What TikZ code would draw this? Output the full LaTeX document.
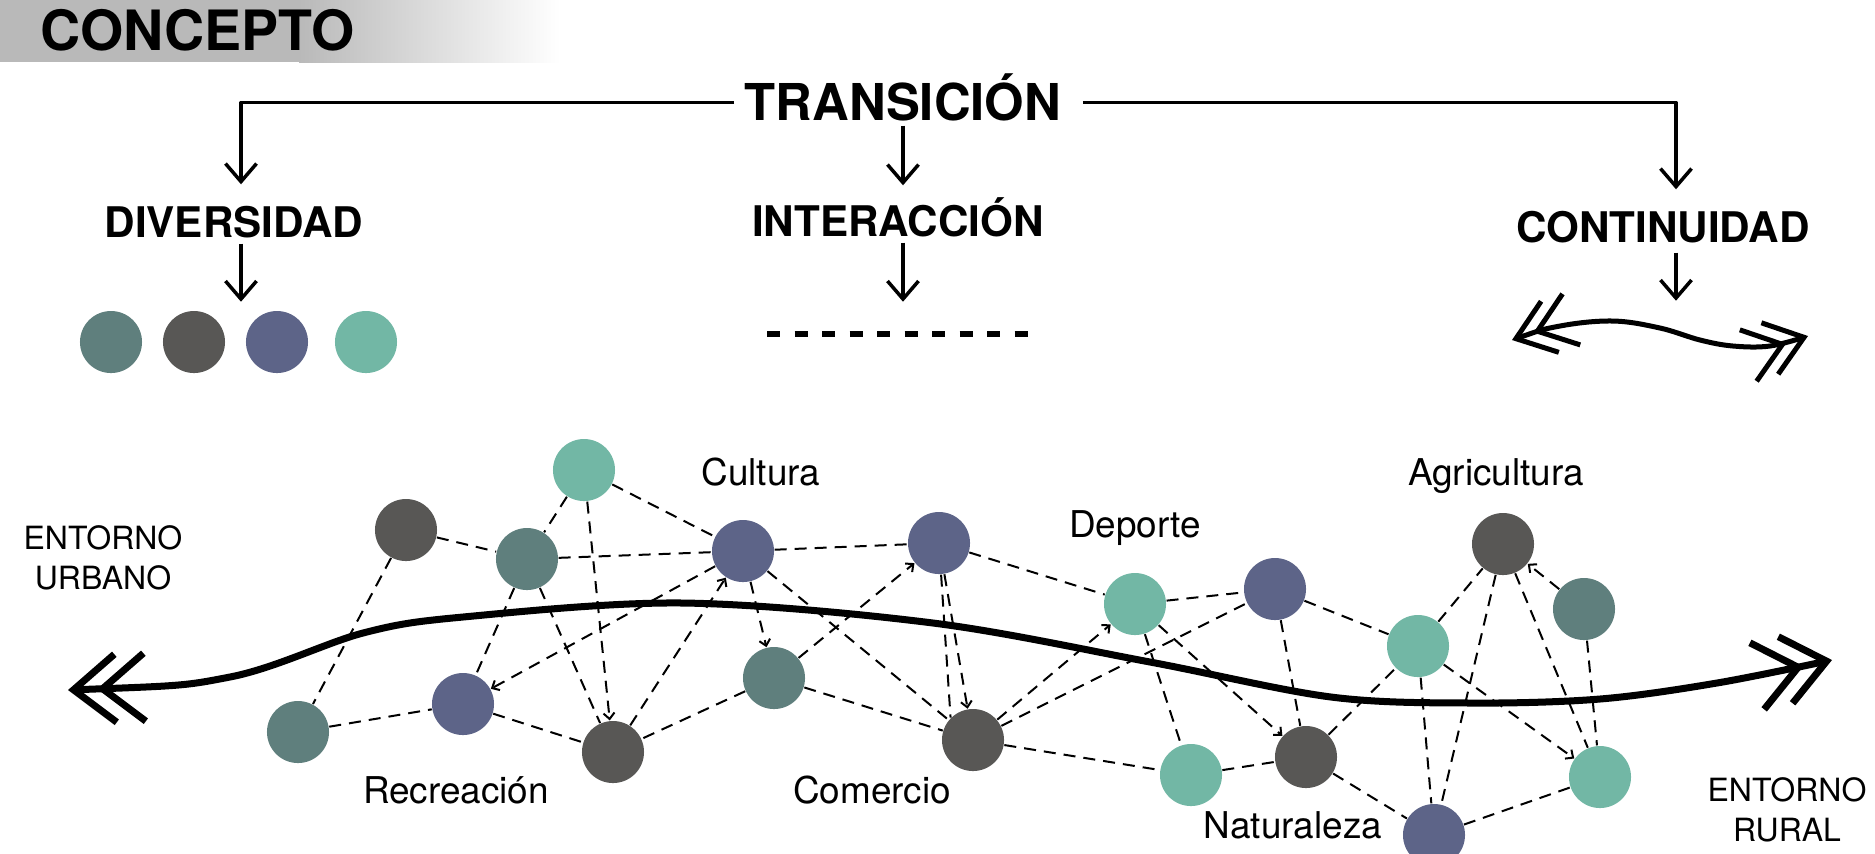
\documentclass[tikz,border=0pt]{standalone}
\usepackage{fontspec}
\setmainfont{TeX Gyre Heros}
\usetikzlibrary{arrows.meta}

\definecolor{cteal}{HTML}{5F7F7D}
\definecolor{cdark}{HTML}{585755}
\definecolor{cblue}{HTML}{5D6488}
\definecolor{cmint}{HTML}{72B7A5}
\definecolor{cbar}{HTML}{B9B9B9}

\begin{document}
\begin{tikzpicture}[x=0.01cm,y=-0.01cm,>={Straight Barb[length=0.06cm,width=0.11cm]},
                    line join=round]
  \tikzstyle{every node}=[inner sep=0pt]
  \tikzstyle{blob}=[circle,minimum size=0.62cm,inner sep=0pt]
  \tikzstyle{link}=[draw=black,line width=0.02cm,dash pattern=on 0.12cm off 0.08cm]
  \tikzstyle{ttl}=[font=\bfseries\fontsize{12}{14}\selectfont,anchor=base,text height=0.3cm,text depth=0pt]
  \tikzstyle{lbl}=[font=\fontsize{10.5}{12.6}\selectfont,anchor=base]
  \tikzstyle{env}=[font=\fontsize{9.1}{11.4}\selectfont,align=center,anchor=north]
  \tikzstyle{flow}=[-{Straight Barb[length=0.18cm,width=0.31cm]},line width=0.035cm]

  \clip (0,0) rectangle (1875,853);

  \fill[cbar] (0,0) rectangle (300,62);
  \shade[left color=cbar,right color=white] (299,0) rectangle (560,62);
  \node[anchor=base west,font=\bfseries\fontsize{15.8}{19}\selectfont] (concepto) at (40,50) {CONCEPTO};

  \node[ttl,font=\bfseries\fontsize{14.45}{17}\selectfont,text height=0.35cm] (trans) at (903,120) {TRANSICIÓN};
  \node[ttl] (div)   at (234,237)  {DIVERSIDAD};
  \node[ttl] (inter) at (898,236)  {INTERACCIÓN};
  \node[ttl] (cont)  at (1663,242) {CONTINUIDAD};

  \draw[flow,shorten <=0.1cm,shorten >=0.22cm] (trans.west) -| ([xshift=0.07cm]div.north);
  \draw[flow,shorten <=0.21cm,shorten >=0.22cm] (trans.east) -| ([xshift=0.13cm]cont.north);
  \draw[flow,shorten <=0.05cm,shorten >=0.2cm] (trans.south) -- (trans.south |- inter.north);
  \draw[flow,shorten <=0.06cm] ([xshift=0.07cm]div.south) -- ++(0,64);
  \draw[flow,shorten <=0.06cm] ([xshift=0.05cm]inter.south) -- ++(0,65);
  \draw[flow,shorten <=0.1cm] ([xshift=0.13cm]cont.south) -- ++(0,58);

  \node[blob,fill=cteal] (dv1) at (111,342) {};
  \node[blob,fill=cdark] (dv2) at (194,342) {};
  \node[blob,fill=cblue] (dv3) at (277,342) {};
  \node[blob,fill=cmint] (dv4) at (366,342) {};

  \coordinate (ia) at (767,334);
  \coordinate (ib) at (1036,334);
  \draw[line width=0.06cm,dash pattern=on 0.13cm off 0.145cm] (ia) -- (ib);

  \coordinate (ca) at (1512,340);
  \coordinate (cb) at (1808,336);
  \draw[line width=0.05cm,{Straight Barb[length=0.36cm,width=0.54cm]Straight Barb[length=0.36cm,width=0.54cm,sep=-0.2cm]}-{Straight Barb[length=0.36cm,width=0.54cm,sep=-0.2cm]Straight Barb[length=0.36cm,width=0.54cm]}]
    plot[smooth,tension=0.6] coordinates {(ca) (1560,326) (1613,321) (1660,328) (1700,340) (1733,346) (1770,346) (cb)};

  \node[env] (urb) at (103,525)  {ENTORNO\\URBANO};
  \node[env] (rur) at (1787,777) {ENTORNO\\RURAL};

  \coordinate (ua) at (68,690);
  \coordinate (ub) at (1832,660);
  \draw[line width=0.07cm,{Straight Barb[length=0.42cm,width=0.68cm]Straight Barb[length=0.42cm,width=0.68cm,sep=-0.22cm]}-{Straight Barb[length=0.42cm,width=0.68cm,sep=-0.22cm]Straight Barb[length=0.42cm,width=0.68cm]}]
    plot[smooth,tension=0.55] coordinates {(ua) (230,677) (363,633) (463,617) (683,603) (933,623) (1150,662) (1331,697) (1471,703) (1600,699) (1717,683) (ub)};

  \node[blob,fill=cmint] (A) at (584,470) {};
  \node[blob,fill=cdark] (B) at (406,530) {};
  \node[blob,fill=cteal] (C) at (527,559) {};
  \node[blob,fill=cblue] (D) at (743,551) {};
  \node[blob,fill=cblue] (E) at (463,704) {};
  \node[blob,fill=cteal] (F) at (298,732) {};
  \node[blob,fill=cdark] (G) at (613,752) {};
  \node[blob,fill=cteal] (H) at (774,678) {};
  \node[blob,fill=cblue] (I) at (939,543) {};
  \node[blob,fill=cdark] (J) at (973,740) {};
  \node[blob,fill=cmint] (K) at (1135,604) {};
  \node[blob,fill=cblue] (L) at (1275,589) {};
  \node[blob,fill=cmint] (M) at (1191,775) {};
  \node[blob,fill=cdark] (N) at (1306,757) {};
  \node[blob,fill=cmint] (O) at (1418,646) {};
  \node[blob,fill=cdark] (P) at (1503,544) {};
  \node[blob,fill=cteal] (Q) at (1584,609) {};
  \node[blob,fill=cmint] (R) at (1600,777) {};
  \node[blob,fill=cblue] (S) at (1434,835) {};

  \path[link] (B) edge (F)
                  edge (C)
              (C) edge (D)
                  edge (G)
                  edge (E)
              (A) edge (C)
                  edge (D)
                  edge [->] (G)
              (D) edge (I)
                  edge (J)
                  edge [->] (E)
                  edge [->] (H)
              (F) edge (E)
              (E) edge (G)
              (G) edge [->] (D)
              (H) edge [->] (I)
                  edge (G)
                  edge (J)
              (I) edge [->] (J)
                  edge (J.north west)
                  edge (K)
              (J) edge [->] (K)
                  edge (L)
                  edge (M)
              (K) edge (L)
                  edge (M)
                  edge [->] (N)
              (L) edge (N)
                  edge (O)
              (M) edge (N)
              (N) edge (O)
                  edge (S)
              (O) edge (P)
                  edge (S)
                  edge [->] (R)
              (P) edge (S)
                  edge (R)
              (Q) edge [->] (P)
                  edge (R)
              (S) edge (R);

  \node[lbl] (cultura) at (761,485)  {Cultura};
  \node[lbl] (deporte) at (1135,537) {Deporte};
  \node[lbl] (agri)    at (1496,485) {Agricultura};
  \node[lbl] (recre)   at (456,803)  {Recreación};
  \node[lbl] (comer)   at (872,803)  {Comercio};
  \node[lbl] (natu)    at (1293,838) {Naturaleza};
\end{tikzpicture}
\end{document}
